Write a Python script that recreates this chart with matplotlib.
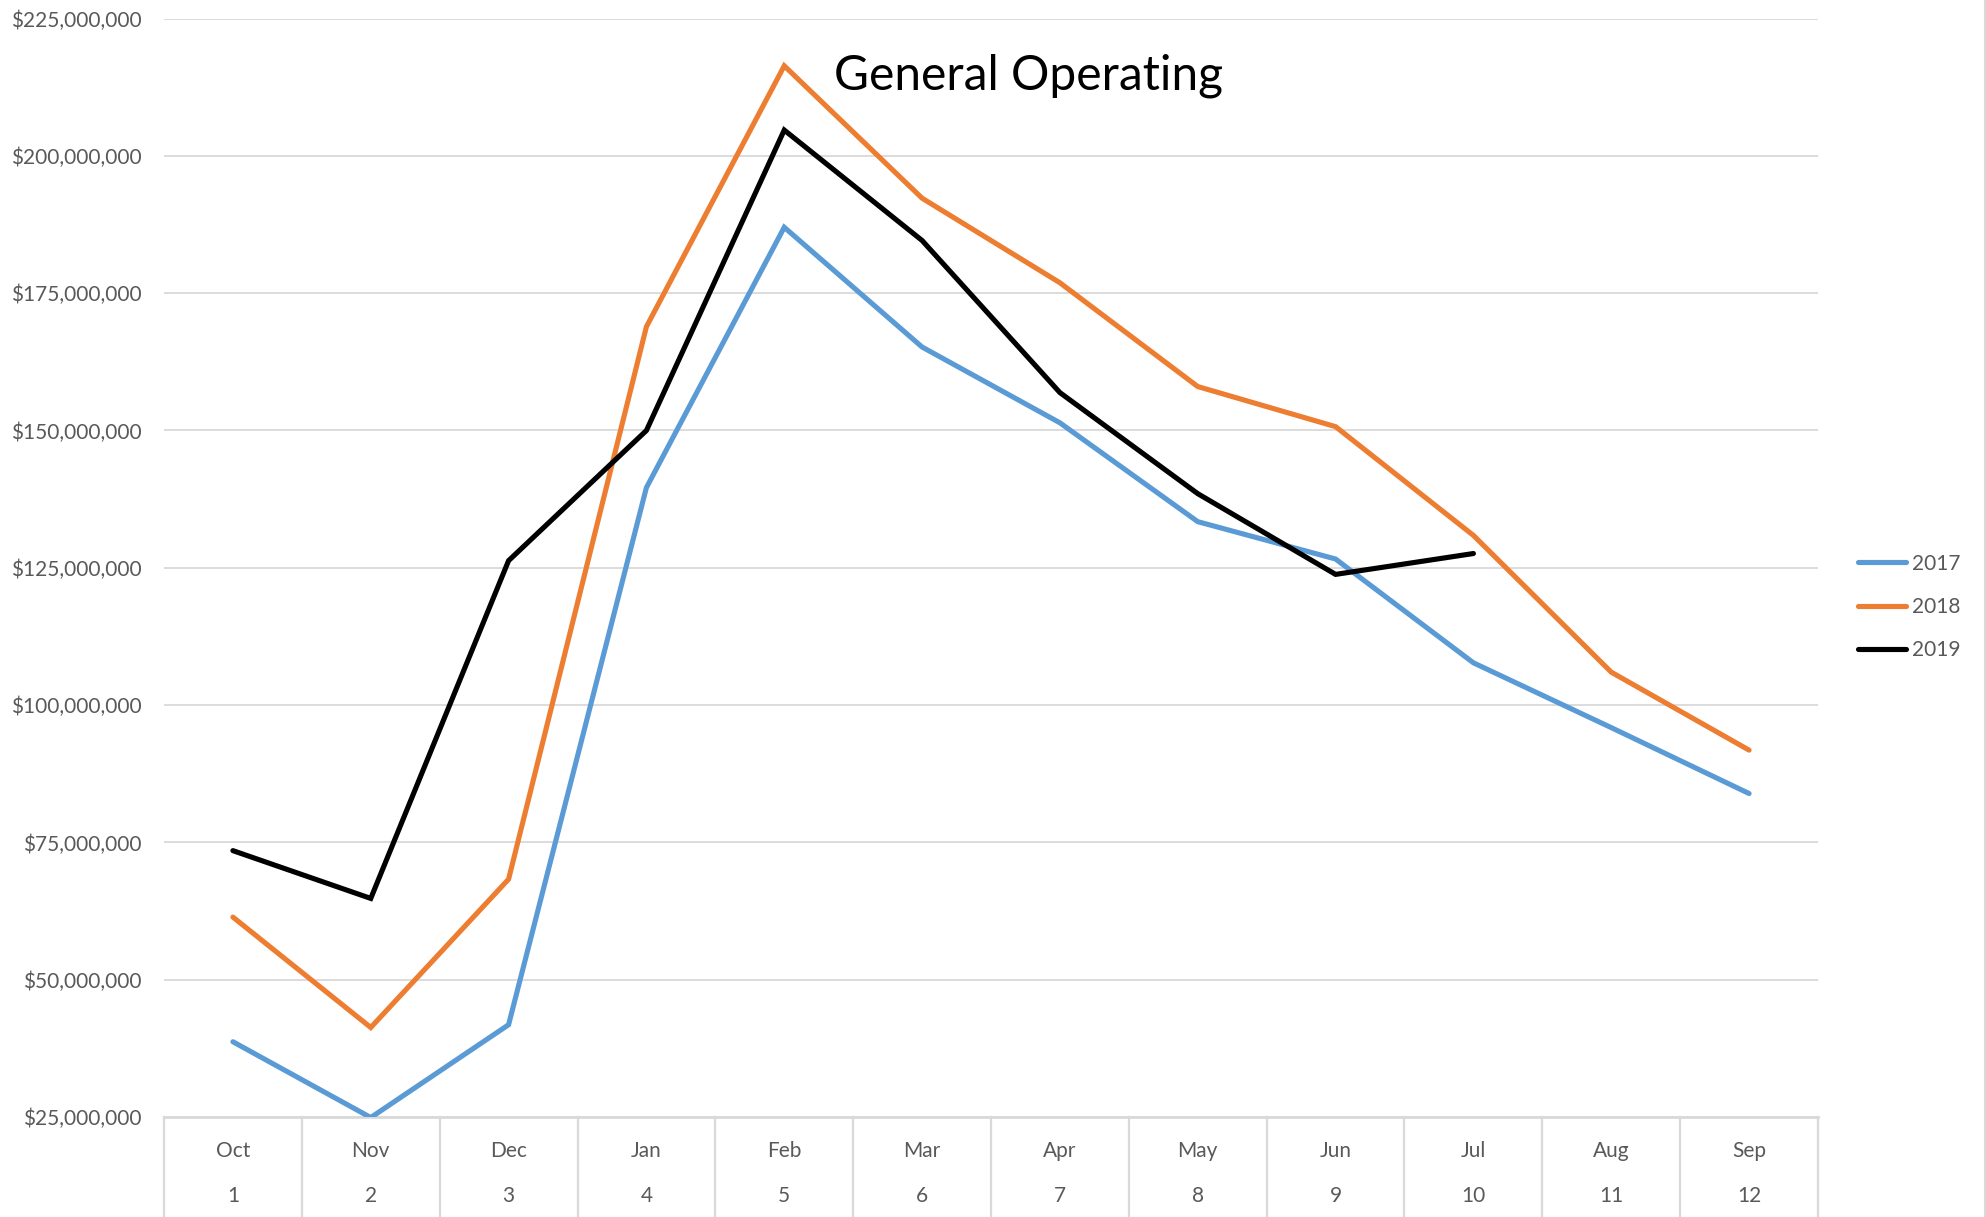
import matplotlib
matplotlib.use('Agg')
import matplotlib.pyplot as plt
from matplotlib.lines import Line2D
from matplotlib.ticker import FuncFormatter

# Datos (millones de dólares)
months = ['Oct', 'Nov', 'Dec', 'Jan', 'Feb', 'Mar', 'Apr', 'May', 'Jun', 'Jul', 'Aug', 'Sep']
periods = list(range(1, 13))
y2017 = [38.7, 24.9, 41.8, 139.6, 187.0, 165.2, 151.4, 133.4, 126.6, 107.7, 95.9, 83.9]
y2018 = [61.4, 41.3, 68.3, 168.9, 216.4, 192.3, 176.9, 158.0, 150.7, 130.9, 106.0, 91.8]
y2019 = [73.5, 64.8, 126.3, 150.0, 204.7, 184.6, 156.9, 138.5, 123.8, 127.6]

series = [('2017', y2017, '#5b9bd5'), ('2018', y2018, '#ed7d31'), ('2019', y2019, '#000000')]

W, H = 1986, 1217
txt = '#595959'
grid_c = '#d9d9d9'
plt.rcParams['font.family'] = ['Lato', 'DejaVu Sans']

fig = plt.figure(figsize=(W / 100, H / 100), dpi=100)
ax = fig.add_axes([164 / W, 1 - 1117 / H, (1818 - 164) / W, (1117 - 18.6) / H])

for name, vals, col in series:
    ax.plot(periods[:len(vals)], [v * 1e6 for v in vals], color=col, lw=3.7,
            label=name, solid_joinstyle='miter', solid_capstyle='round', zorder=3)

ax.set_xlim(0.5, 12.5)
ax.set_ylim(25e6, 225e6)
ax.set_yticks([25e6 * i for i in range(1, 10)])
ax.yaxis.set_major_formatter(FuncFormatter(lambda v, p: f'${v:,.0f}'))
ax.tick_params(axis='y', length=0, pad=16, labelsize=15, labelcolor=txt)
ax.set_xticks([])
ax.grid(axis='y', color=grid_c, lw=1.3, zorder=0)
for s in ax.spines.values():
    s.set_visible(False)

# eje de categorías de dos niveles
trans = ax.get_xaxis_transform()
for i in range(13):
    ax.add_line(Line2D([i + 0.5, i + 0.5], [0, -1.2], transform=trans, color=grid_c,
                       lw=1.6, clip_on=False))
ax.add_line(Line2D([0.5, 12.5], [0, 0], transform=trans, color=grid_c, lw=2, clip_on=False))
for p, m in zip(periods, months):
    ax.text(p, -34 / (1117 - 18.6), m, transform=trans, ha='center', va='center',
            fontsize=15, color=txt)
    ax.text(p, -79 / (1117 - 18.6), str(p), transform=trans, ha='center', va='center',
            fontsize=15, color=txt)

fig.text(1028 / W, 1 - 76 / H, 'General Operating', ha='center', va='center',
         fontsize=34.5, color='black')

leg = ax.legend(loc='center left', bbox_to_anchor=(1858 / W, 1 - 607 / H),
                bbox_transform=fig.transFigure, frameon=False, fontsize=15,
                handlelength=2.3, handletextpad=0.3, labelspacing=1.12,
                borderpad=0, borderaxespad=0)
for t in leg.get_texts():
    t.set_color(txt)

fig.add_artist(Line2D([1985 / W, 1985 / W], [0, 1], transform=fig.transFigure,
                      color=grid_c, lw=1.5))

fig.savefig('out.png', dpi=100)
